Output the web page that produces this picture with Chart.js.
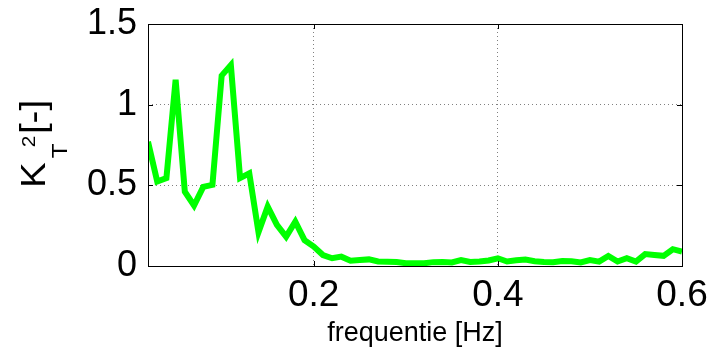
<!DOCTYPE html>
<html>
<head>
<meta charset="utf-8">
<script src="https://cdn.jsdelivr.net/npm/chart.js@4/dist/chart.umd.min.js"></script>
<style>
  html, body { margin: 0; padding: 0; background: #fff; }
</style>
</head>
<body>
<canvas id="chart" width="712" height="353"></canvas>
<script>
// frequentie [Hz]
const freq = [
  0.02, 0.03, 0.04, 0.05, 0.06, 0.07, 0.08, 0.09, 0.10, 0.11,
  0.12, 0.13, 0.14, 0.15, 0.16, 0.17, 0.18, 0.19, 0.20, 0.21,
  0.22, 0.23, 0.24, 0.25, 0.26, 0.27, 0.28, 0.29, 0.30, 0.31,
  0.32, 0.33, 0.34, 0.35, 0.36, 0.37, 0.38, 0.39, 0.40, 0.41,
  0.42, 0.43, 0.44, 0.45, 0.46, 0.47, 0.48, 0.49, 0.50, 0.51,
  0.52, 0.53, 0.54, 0.55, 0.56, 0.57, 0.58, 0.59, 0.60
];
// K_T^2 [-]
const kt2 = [
  0.77, 0.524, 0.545, 1.155, 0.46, 0.375, 0.49, 0.503, 1.18, 1.245,
  0.545, 0.574, 0.21, 0.368, 0.255, 0.182, 0.275, 0.16, 0.12, 0.068,
  0.048, 0.058, 0.033, 0.037, 0.041, 0.028, 0.026, 0.025, 0.017, 0.017,
  0.017, 0.024, 0.025, 0.022, 0.037, 0.025, 0.028, 0.034, 0.048, 0.028,
  0.035, 0.04, 0.03, 0.025, 0.023, 0.031, 0.029, 0.022, 0.037, 0.027,
  0.062, 0.028, 0.048, 0.027, 0.074, 0.068, 0.063, 0.104, 0.089
];
const xTicks = [0.2, 0.4, 0.6];
const yTicks = [0, 0.5, 1, 1.5];

const FONT = '"Liberation Sans", Arial, sans-serif';

// kader, ticks naar binnen en y-label (K_T^2 [-])
const matlabAxes = {
  id: 'matlabAxes',
  afterDraw(chart) {
    const ctx = chart.ctx;
    const a = chart.chartArea;
    const xs = chart.scales.x;
    const ys = chart.scales.y;
    ctx.save();
    ctx.strokeStyle = '#000';
    ctx.lineWidth = 1;
    ctx.beginPath();
    xTicks.forEach(v => {
      const px = Math.round(xs.getPixelForValue(v)) + 0.5;
      ctx.moveTo(px, a.bottom); ctx.lineTo(px, a.bottom - 5);
      ctx.moveTo(px, a.top); ctx.lineTo(px, a.top + 5);
    });
    yTicks.forEach(v => {
      const py = Math.round(ys.getPixelForValue(v)) + 0.5;
      ctx.moveTo(a.left, py); ctx.lineTo(a.left + 5, py);
      ctx.moveTo(a.right, py); ctx.lineTo(a.right - 5, py);
    });
    ctx.stroke();
    ctx.strokeRect(Math.round(a.left) + 0.5, Math.round(a.top) + 0.5,
      Math.round(a.right - a.left), Math.round(a.bottom - a.top));

    // y-as label
    ctx.fillStyle = '#000';
    ctx.textBaseline = 'alphabetic';
    ctx.textAlign = 'left';
    ctx.translate(45, 188);
    ctx.rotate(-Math.PI / 2);
    ctx.scale(1.1, 1);
    ctx.font = '35px ' + FONT;
    ctx.fillText('K', 0, 0);
    ctx.font = '22px ' + FONT;
    ctx.fillText('T', 27, 22);
    ctx.font = '19px ' + FONT;
    ctx.fillText('2', 37, -10);
    ctx.font = '35px ' + FONT;
    ctx.fillText('[-]', 49, 0);
    ctx.restore();
  }
};

new Chart(document.getElementById('chart'), {
  type: 'line',
  data: {
    datasets: [{
      data: freq.map((f, i) => ({ x: f, y: kt2[i] })),
      borderColor: '#00ff00',
      borderWidth: 6,
      pointRadius: 0,
      tension: 0,
      fill: false,
      clip: 0
    }]
  },
  options: {
    responsive: false,
    animation: false,
    layout: { padding: { top: 24, right: 30, left: 0, bottom: 0 } },
    plugins: {
      legend: { display: false },
      tooltip: { enabled: false }
    },
    scales: {
      x: {
        type: 'linear',
        min: 0.02,
        max: 0.6,
        afterBuildTicks: s => { s.ticks = xTicks.map(v => ({ value: v })); },
        afterFit: s => { s.height = 87; s.paddingLeft = 0; s.paddingRight = 0; },
        grid: { color: '#808080', lineWidth: 1, drawTicks: false },
        border: { display: false, dash: [1, 3] },
        ticks: {
          color: '#000',
          padding: 8,
          maxRotation: 0,
          font: { family: FONT, size: 37 },
          callback: v => String(v)
        },
        title: {
          display: true,
          text: 'frequentie [Hz]',
          color: '#000',
          font: { family: FONT, size: 27 },
          padding: { top: 0, bottom: 3 }
        }
      },
      y: {
        min: 0,
        max: 1.5,
        afterBuildTicks: s => { s.ticks = yTicks.map(v => ({ value: v })); },
        afterFit: s => { s.width = 148; s.paddingTop = 0; s.paddingBottom = 0; },
        grid: { color: '#808080', lineWidth: 1, drawTicks: false },
        border: { display: false, dash: [1, 3] },
        ticks: {
          color: '#000',
          padding: 11,
          font: { family: FONT, size: 36 },
          callback: v => String(v)
        }
      }
    }
  },
  plugins: [matlabAxes]
});
</script>
</body>
</html>
